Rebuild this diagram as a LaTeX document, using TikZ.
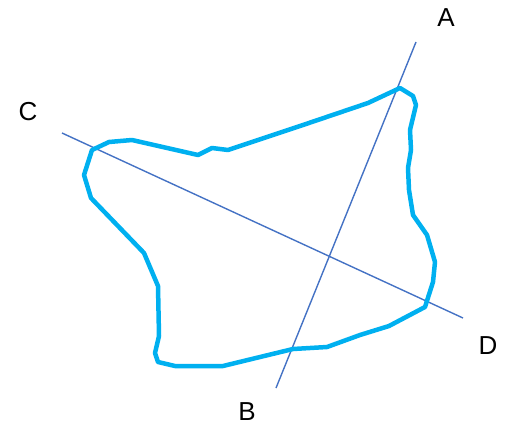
\documentclass[tikz,border=0pt]{standalone}
\usepackage{fontspec}
\setmainfont{Liberation Sans}
\definecolor{shapeblue}{HTML}{00B0F0}
\definecolor{lineblue}{HTML}{4472C4}
\begin{document}
\begin{tikzpicture}[x=1pt,y=-1pt,
  axis/.style={draw=lineblue,line width=1.4pt},
  blob/.style={draw=shapeblue,line width=4.5pt,line join=round,line cap=round},
  lbl/.style={font=\fontsize{26}{30}\selectfont,inner sep=0pt}]
\useasboundingbox (0,0) rectangle (508,431);
\coordinate (Aend) at (416,42);
\coordinate (Bend) at (276,388);
\coordinate (Cend) at (62,133);
\coordinate (Dend) at (463,318);
\draw[axis] (Aend) -- (Bend);
\draw[axis] (Cend) -- (Dend);
\draw[blob] (400,88) -- (413,96) -- (416,105) -- (410,130) -- (411,150) -- (408,168)
  -- (409,190) -- (413,215) -- (427,235) -- (435,262) -- (433,282) -- (425,307)
  -- (389,326) -- (360,335) -- (327,347) -- (293,349) -- (223,366) -- (175,366)
  -- (158,362) -- (155,353) -- (159,336) -- (158,286) -- (144,253) -- (91,198)
  -- (84,175) -- (92,150) -- (109,142) -- (132,140) -- (198,155) -- (212,148)
  -- (228,150) -- (300,126) -- (368,103) -- cycle;
\node[lbl] (A) at (446,18) {A};
\node[lbl] (B) at (247,412) {B};
\node[lbl] (C) at (28,112) {C};
\node[lbl] (D) at (488,346) {D};
\end{tikzpicture}
\end{document}
